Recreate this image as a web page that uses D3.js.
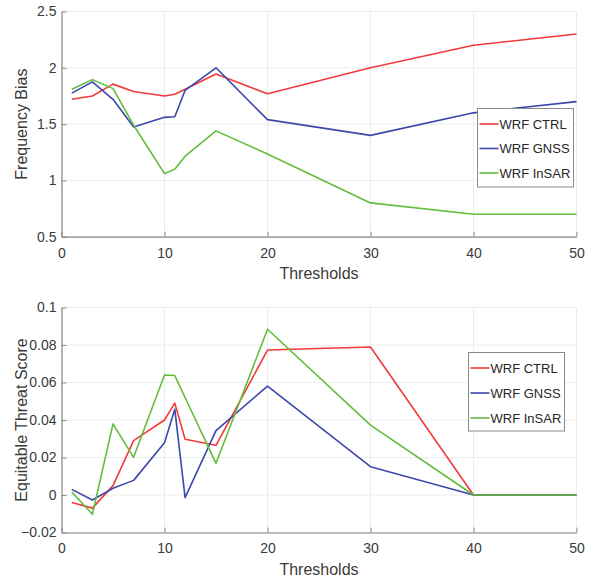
<!DOCTYPE html>
<html>
<head>
<meta charset="utf-8">
<script src="https://cdn.jsdelivr.net/npm/d3@7"></script>
<style>
  html, body { margin: 0; padding: 0; background: #fff; }
  svg { display: block; font-family: "Liberation Sans", Arial, sans-serif; }
</style>
</head>
<body>
<svg id="chart" width="600" height="580"></svg>
<script>
// Rainfall thresholds shared by both panels
const thresholds = [1, 3, 5, 7, 10, 11, 12, 15, 20, 30, 40, 50];

const seriesNames = ["WRF CTRL", "WRF GNSS", "WRF InSAR"];
const seriesColors = ["#f23a3a", "#3b47ab", "#62bd3c"];

// Frequency Bias per threshold
const fbCtrl  = [1.72, 1.75, 1.855, 1.79, 1.75, 1.765, 1.81, 1.945, 1.77, 2.00, 2.20, 2.30];
const fbGnss  = [1.775, 1.875, 1.72, 1.475, 1.56, 1.565, 1.80, 2.00, 1.54, 1.40, 1.60, 1.70];
const fbInsar = [1.81, 1.895, 1.815, 1.49, 1.06, 1.10, 1.215, 1.44, 1.235, 0.80, 0.70, 0.70];

// Equitable Threat Score per threshold
const etsCtrl  = [-0.004, -0.007, 0.005, 0.029, 0.040, 0.049, 0.0297, 0.0265, 0.0773, 0.0789, 0, 0];
const etsGnss  = [0.003, -0.0027, 0.0036, 0.0078, 0.0279, 0.0457, -0.0014, 0.0343, 0.0581, 0.0151, 0, 0];
const etsInsar = [0.0016, -0.0103, 0.0379, 0.0201, 0.064, 0.0637, 0.052, 0.0169, 0.0884, 0.0373, 0, 0];

const xTicks = [0, 10, 20, 30, 40, 50];
const fbTicks = [0.5, 1, 1.5, 2, 2.5];
const etsTicks = [-0.02, 0, 0.02, 0.04, 0.06, 0.08, 0.1];

const svg = d3.select("#chart");

function drawPanel(cfg) {
  const x = d3.scaleLinear().domain([0, 50]).range([cfg.left, cfg.right]);
  const y = d3.scaleLinear().domain(cfg.yDomain).range([cfg.bottom, cfg.top]);
  const g = svg.append("g");

  // grid
  g.append("g").selectAll("line").data(xTicks).join("line")
    .attr("x1", d => x(d)).attr("x2", d => x(d))
    .attr("y1", cfg.top).attr("y2", cfg.bottom)
    .attr("stroke", "#ececec").attr("stroke-width", 1);
  g.append("g").selectAll("line").data(cfg.yTicks).join("line")
    .attr("x1", cfg.left).attr("x2", cfg.right)
    .attr("y1", d => y(d)).attr("y2", d => y(d))
    .attr("stroke", "#ececec").attr("stroke-width", 1);

  // series lines
  const line = d3.line().x((d, i) => x(thresholds[i])).y(d => y(d));
  cfg.series.forEach((vals, k) => {
    g.append("path").datum(vals)
      .attr("d", line)
      .attr("fill", "none")
      .attr("stroke", seriesColors[k])
      .attr("stroke-width", 1.6)
      .attr("stroke-linejoin", "round");
  });

  // axes (ticks pointing inward)
  const xAxis = d3.axisBottom(x).tickValues(xTicks).tickFormat(d3.format("d"))
    .tickSizeInner(-5).tickSizeOuter(0).tickPadding(11);
  const yAxis = d3.axisLeft(y).tickValues(cfg.yTicks).tickFormat(cfg.fmt)
    .tickSizeInner(-5).tickSizeOuter(0).tickPadding(5);

  const gx = g.append("g").attr("transform", `translate(0,${cfg.bottom})`).call(xAxis);
  const gy = g.append("g").attr("transform", `translate(${cfg.left},0)`).call(yAxis);
  [gx, gy].forEach(a => {
    a.select(".domain").attr("stroke", "#8a8a8a").attr("stroke-width", 1.2);
    a.selectAll(".tick line").attr("stroke", "#8a8a8a");
    a.selectAll(".tick text").attr("fill", "#3a3a3a").attr("font-size", 14);
  });

  // axis titles
  g.append("text")
    .attr("x", (cfg.left + cfg.right) / 2).attr("y", cfg.bottom + 42)
    .attr("text-anchor", "middle").attr("font-size", 16).attr("fill", "#3a3a3a")
    .text("Thresholds");
  g.append("text")
    .attr("transform", `translate(27,${(cfg.top + cfg.bottom) / 2}) rotate(-90)`)
    .attr("text-anchor", "middle").attr("font-size", 16).attr("fill", "#3a3a3a")
    .text(cfg.yLabel);

  // legend
  const L = cfg.legend;
  const lg = g.append("g").attr("transform", `translate(${L.x},${L.y})`);
  lg.append("rect").attr("width", L.w).attr("height", L.h)
    .attr("fill", "#fff").attr("stroke", "#8a8a8a").attr("stroke-width", 1);
  seriesNames.forEach((name, k) => {
    const yy = L.row0 + k * L.step;
    lg.append("line").attr("x1", 2).attr("x2", 21).attr("y1", yy).attr("y2", yy)
      .attr("stroke", seriesColors[k]).attr("stroke-width", 1.6);
    lg.append("text").attr("x", 22).attr("y", yy).attr("dy", "0.35em")
      .attr("font-size", 13).attr("fill", "#262626").text(name);
  });
}

drawPanel({
  left: 61.5, right: 576.5, top: 11.5, bottom: 236.7,
  yDomain: [0.5, 2.5], yTicks: fbTicks, fmt: d3.format("~g"),
  yLabel: "Frequency Bias",
  series: [fbCtrl, fbGnss, fbInsar],
  legend: { x: 477.5, y: 108.5, w: 96, h: 78.5, row0: 15.5, step: 24.5 }
});

drawPanel({
  left: 61.5, right: 576.5, top: 307.5, bottom: 532.5,
  yDomain: [-0.02, 0.1], yTicks: etsTicks, fmt: d3.format("~g"),
  yLabel: "Equitable Threat Score",
  series: [etsCtrl, etsGnss, etsInsar],
  legend: { x: 468.5, y: 352.5, w: 96, h: 78.5, row0: 15.5, step: 25 }
});
</script>
</body>
</html>
